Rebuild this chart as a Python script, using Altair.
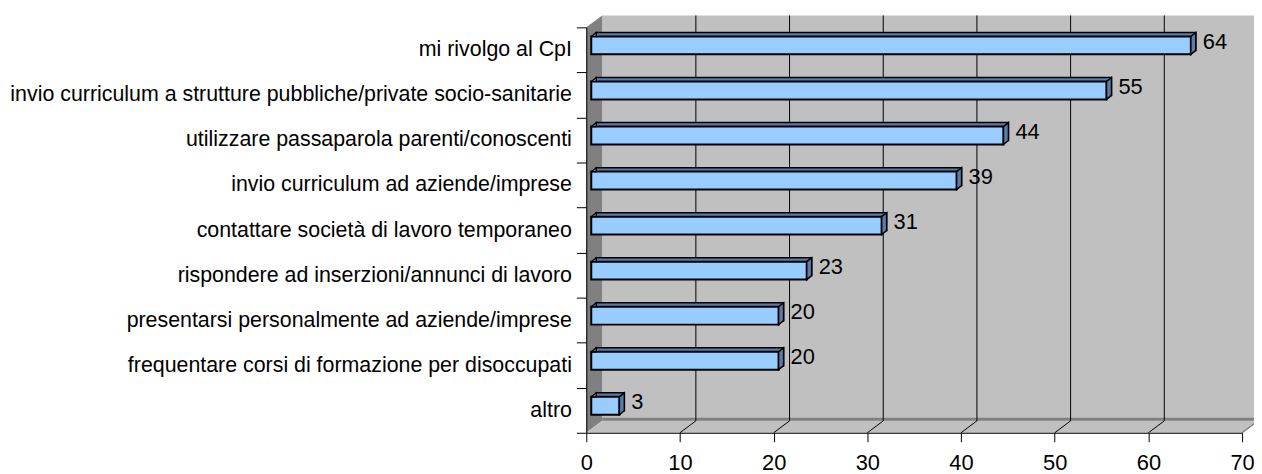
import altair as alt
import pandas as pd

# ---------------- data ----------------
categories = [
    "mi rivolgo al CpI",
    "invio curriculum a strutture pubbliche/private socio-sanitarie",
    "utilizzare passaparola parenti/conoscenti",
    "invio curriculum ad aziende/imprese",
    "contattare società di lavoro temporaneo",
    "rispondere ad inserzioni/annunci di lavoro",
    "presentarsi personalmente ad aziende/imprese",
    "frequentare corsi di formazione per disoccupati",
    "altro",
]
values = [64, 55, 44, 39, 31, 23, 20, 20, 3]
x_ticks = [0, 10, 20, 30, 40, 50, 60, 70]
grid_ticks = [10, 20, 30, 40, 50, 60]

# ---------------- style / geometry ----------------
W, H = 660, 408          # front plane of the plot
DX, DY = 16, 12          # depth of the 3D walls (px)
BX, BY = 5, 4            # depth of each bar (px)
FX, FY = 5, 4.5          # bars sit a little behind the front plane
BAR = 18                 # bar thickness
FONT = "Liberation Sans"
LIGHT = "#99CCFF"
DARK = "#5B7BA8"
WALL = "#C0C0C0"
SIDE_WALL = "#808080"

df = pd.DataFrame({"cat": categories, "value": values})
grid_df = pd.DataFrame({"t": grid_ticks})
one = pd.DataFrame({"a": [0]})

xscale = alt.Scale(domain=[0, 70], nice=False, zero=True)
yscale = alt.Scale(domain=categories, paddingInner=0, paddingOuter=0)

x_axis = alt.Axis(values=x_ticks, title=None, grid=False, domainColor="black",
                  tickColor="black", tickSize=9, labelFontSize=22, labelFont=FONT,
                  labelColor="black", labelPadding=11, labelFlush=False,
                  labelOverlap=False, zindex=1)
y_axis = alt.Axis(title=None, tickBand="extent", tickSize=10, labelPadding=5,
                  labelFontSize=21.5, labelFont=FONT, labelColor="black",
                  labelLimit=1000, domainColor="black", tickColor="black", zindex=1)

X = alt.X("value:Q", scale=xscale, axis=x_axis)
Y = alt.Y("cat:N", scale=yscale, sort=categories, axis=y_axis)

# ---------------- 3D frame ----------------
back_wall = alt.Chart(one).mark_rect(color=WALL).encode(
    x=alt.value(DX), x2=alt.value(W + DX), y=alt.value(-DY), y2=alt.value(H - DY))

wall_df = pd.DataFrame({"px": [0, DX], "top": [0, -DY], "bot": [H, H - DY]})
left_wall = alt.Chart(wall_df).mark_area(orient="vertical", color=SIDE_WALL, opacity=1).encode(
    x=alt.X("px:Q", scale=None), y=alt.Y("top:Q", scale=None), y2="bot:Q")

floor_df = pd.DataFrame({"py": [H - DY, H], "left": [DX, 0], "right": [W + DX, W]})
floor = alt.Chart(floor_df).mark_area(orient="horizontal", color=WALL, opacity=1).encode(
    y=alt.Y("py:Q", scale=None), x=alt.X("left:Q", scale=None), x2="right:Q")

floor_edge = alt.Chart(one).mark_rect(color=SIDE_WALL).encode(
    x=alt.value(DX), x2=alt.value(W + DX), y=alt.value(H - DY - 3), y2=alt.value(H - DY))

grid = alt.Chart(grid_df).mark_rule(color="black", strokeWidth=1, xOffset=DX).encode(
    x=alt.X("t:Q", scale=xscale, title=None), y=alt.value(-DY), y2=alt.value(H - DY))

floor_lines = alt.Chart(grid_df).mark_rule(color="black", strokeWidth=1, x2Offset=DX).encode(
    x=alt.X("t:Q", scale=xscale, title=None), x2="t:Q", y=alt.value(H), y2=alt.value(H - DY))

right_edge = alt.Chart(pd.DataFrame({"t": [70]})).mark_rule(color=SIDE_WALL, strokeWidth=1.5, x2Offset=DX).encode(
    x=alt.X("t:Q", scale=xscale, title=None), x2="t:Q", y=alt.value(H), y2=alt.value(H - DY))

# ---------------- 3D bars ----------------
back_bars = alt.Chart(df).mark_bar(
    size=BAR, fill=DARK, stroke="black", strokeWidth=1.5,
    xOffset=FX + BX, x2Offset=FX + BX, yOffset=-(FY + BY), y2Offset=-(FY + BY)
).encode(x=X, y=Y)

front_bars = alt.Chart(df).mark_bar(
    size=BAR, fill=LIGHT, stroke="black", strokeWidth=2,
    xOffset=FX, x2Offset=FX, yOffset=-FY, y2Offset=-FY
).encode(x=X, y=Y)

half = BAR / 2
side_path = f"M0,{-half}L{BX},{-half - BY}L{BX},{half - BY}L0,{half}Z"
side_faces = alt.Chart(df).mark_point(
    shape=side_path, size=4, filled=True, fill=DARK, stroke="black", strokeWidth=1.5,
    opacity=1, xOffset=FX, yOffset=-FY
).encode(x=X, y=Y)

corner_path = f"M0,{-half}L{BX},{-half - BY}L{BX},{-half}Z"
corners = alt.Chart(df).mark_point(
    shape=corner_path, size=4, filled=True, fill=DARK, stroke="black", strokeWidth=1.2,
    opacity=1, xOffset=FX, yOffset=-FY
).encode(x=alt.datum(0, scale=xscale), y=Y)

labels = alt.Chart(df).mark_text(
    align="left", baseline="middle", dx=17, dy=-8, fontSize=22, font=FONT, color="black"
).encode(x=X, y=Y, text="value:Q")

chart = alt.layer(
    back_wall, left_wall, floor, floor_edge, grid, floor_lines, right_edge,
    back_bars, front_bars, side_faces, corners, labels
).properties(
    width=W, height=H,
    padding={"left": 582, "top": 18, "right": 12, "bottom": 40},
    autosize=alt.AutoSizeParams(type="none"),
).configure_view(stroke=None).configure(font=FONT)

chart.save("out.html", embed_options={"renderer": "svg", "actions": False})
